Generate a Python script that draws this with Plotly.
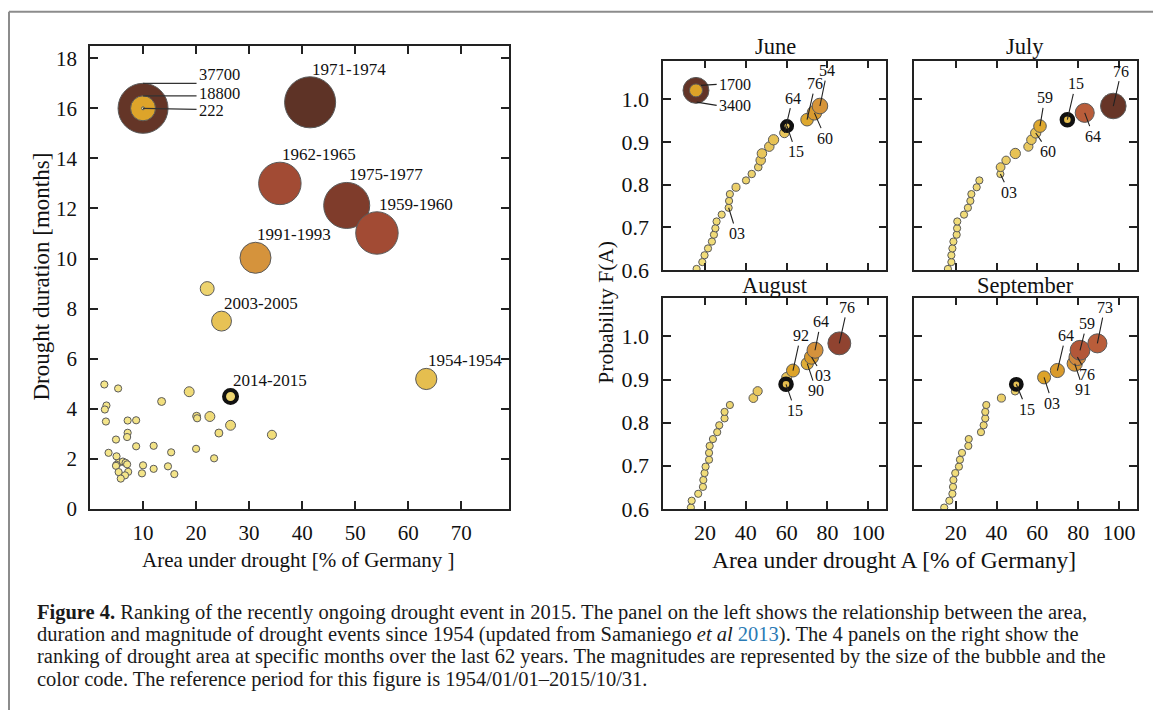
import plotly.graph_objects as go

W, H = 1153, 722
FONT = "Liberation Serif, Times New Roman, serif"

# ---------------- Left panel data: drought events ----------------
ev_area = [2.7, 5.3, 3.1, 2.8, 3.0, 7.1, 8.7, 7.1, 7.0, 4.9, 8.7, 12.0, 3.5, 15.3, 5.0,
           5.4, 6.2, 6.7, 7.0, 5.0, 4.9, 10.0, 7.2, 5.4, 6.6, 9.8, 12.0, 14.7, 15.9, 5.8,
           13.5, 18.7, 20.1, 20.2, 22.6, 24.3, 26.5, 20.0, 23.4, 34.3, 22.1,
           26.5, 24.8, 63.4, 31.2, 35.8, 48.4, 54.1, 41.5]
ev_dur = [4.97, 4.81, 4.13, 3.97, 3.49, 3.53, 3.54, 3.04, 2.87, 2.77, 2.50, 2.52, 2.24, 2.26, 2.10,
          1.84, 1.89, 1.84, 1.78, 1.76, 1.72, 1.74, 1.48, 1.47, 1.34, 1.42, 1.60, 1.70, 1.39, 1.21,
          4.29, 4.68, 3.70, 3.62, 3.69, 3.03, 3.34, 2.40, 2.02, 2.96, 8.80,
          4.49, 7.50, 5.19, 10.03, 13.0, 12.12, 11.02, 16.24]
ev_mag = [2900, 3000, 3000, 2900, 3000, 3100, 3800, 3100, 3100, 3000, 3600, 3800, 3100, 3800, 3000,
          3100, 3100, 3100, 3100, 3100, 3000, 3300, 3100, 3000, 3100, 3100, 3100, 3100, 3300, 3000,
          6000, 7500, 6000, 5300, 7500, 6000, 7500, 5300, 4200, 6800, 10500,
          9800, 15000, 16000, 23400, 32000, 34700, 32000, 38500]
ev_label = [""] * 41 + ["2014-2015", "2003-2005", "1954-1954", "1991-1993",
                        "1962-1965", "1975-1977", "1959-1960", "1971-1974"]
current_event = "2014-2015"
legend_mag = [37700, 18800, 222]
legend_area = 10
legend_dur = 16

# ---------------- Right panels: ranking of drought area per month ----------------
prob = [0.603, 0.619, 0.635, 0.651, 0.667, 0.683, 0.698, 0.714, 0.730, 0.746, 0.762, 0.778,
        0.794, 0.810, 0.825, 0.841, 0.857, 0.873, 0.889, 0.905, 0.921, 0.937, 0.952, 0.968, 0.984]

june_area = [15.9, 18.7, 19.8, 21.5, 23.4, 24.4, 25.1, 25.7, 28.2, 31.6, 31.8, 32.2, 35.2,
             40.1, 42.9, 46.1, 47.3, 47.9, 51.5, 53.6, 58.9, 60.2, 70.0, 73.6, 76.3]
june_mag = [500, 560, 620, 650, 660, 680, 700, 720, 760, 880, 850, 850, 1050,
            950, 980, 1000, 1250, 1250, 1250, 1350, 1250, 1250, 1650, 1900, 2050]
june_lab = [""] * 9 + ["03"] + [""] * 10 + ["64", "15", "76", "60", "54"]

july_area = [16.2, 17.9, 17.9, 18.4, 18.9, 20.5, 20.7, 20.8, 24.1, 26.0, 27.2, 27.7, 30.3,
             31.6, 41.9, 42.0, 44.7, 49.2, 55.6, 57.1, 59.2, 61.3, 74.7, 83.2, 97.2]
july_mag = [520, 560, 580, 600, 620, 650, 650, 660, 680, 720, 760, 760, 800,
            820, 800, 1150, 1100, 1350, 1200, 1250, 1350, 1650, 1450, 2500, 3350]
july_lab = [""] * 14 + ["03"] + [""] * 5 + ["60", "59", "15", "64", "76"]

aug_area = [13.1, 13.5, 16.7, 19.0, 19.2, 19.8, 20.3, 22.0, 22.0, 22.3, 23.9, 26.0, 27.0,
            29.6, 29.6, 32.2, 43.7, 45.8, 59.7, 60.0, 63.1, 70.1, 72.2, 73.9, 85.8]
aug_mag = [480, 520, 560, 600, 620, 640, 660, 680, 700, 720, 740, 760, 780,
           800, 820, 850, 1150, 1200, 1450, 1300, 1700, 1600, 1850, 2100, 3000]
aug_lab = [""] * 18 + ["15", "", "92", "90", "03", "64", "76"]

sep_area = [14.4, 16.9, 18.4, 18.7, 18.9, 19.8, 21.6, 22.1, 23.1, 26.2, 26.4, 32.4, 33.7,
            34.5, 34.5, 35.0, 42.4, 49.1, 49.7, 63.3, 69.8, 78.3, 79.6, 80.9, 89.4]
sep_mag = [480, 520, 560, 580, 600, 620, 640, 660, 680, 720, 740, 760, 780,
           800, 820, 850, 1050, 1000, 1350, 1700, 1850, 2000, 2200, 2600, 2500]
sep_lab = [""] * 18 + ["15", "03", "64", "91", "76", "59", "73"]

current_year = "15"
right_legend_mag = [3400, 1700]
right_legend_area = 15.6
right_legend_prob = 1.0205

# ---------------- styling / layout constants ----------------
CS = [[0.0, "#f6ea96"], [0.15, "#f2e07e"], [0.30, "#ecd06a"], [0.42, "#e5bd4e"],
      [0.50, "#dca024"], [0.62, "#d4913f"], [0.73, "#b85a3a"], [0.84, "#a04a34"],
      [0.91, "#7a3a2a"], [1.0, "#5e3326"]]
L_CMAX, L_SIZEREF = 38500, 754.0
R_CMAX, R_SIZEREF = 3450, 131.0
L_SIZEMIN, R_SIZEMIN = 3.6, 3.6


def xdom(a, b):
    return [a / W, b / W]


def ydom(top, bottom):
    return [1 - bottom / H, 1 - top / H]


fig = go.Figure()
annotations = []
shapes = []


def marker(mag, cmax, sizeref, sizemin, lw=1.0, lc="#5a5a5a"):
    return dict(size=mag, sizemode="diameter", sizeref=sizeref, sizemin=sizemin,
                color=mag, cmin=0, cmax=cmax, colorscale=CS,
                line=dict(color=lc, width=lw), opacity=1)


# ---- left panel ----
fig.add_trace(go.Scatter(x=ev_area, y=ev_dur, mode="markers", xaxis="x", yaxis="y",
                         marker=marker(ev_mag, L_CMAX, L_SIZEREF, L_SIZEMIN),
                         showlegend=False, hoverinfo="skip"))
hi = ev_label.index(current_event)
fig.add_trace(go.Scatter(x=[ev_area[hi]], y=[ev_dur[hi]], mode="markers", xaxis="x", yaxis="y",
                         marker=marker([ev_mag[hi]], L_CMAX, L_SIZEREF, L_SIZEMIN, lw=4, lc="#111"),
                         showlegend=False, hoverinfo="skip"))
fig.add_trace(go.Scatter(x=[legend_area] * 3, y=[legend_dur] * 3, mode="markers", xaxis="x", yaxis="y",
                         marker=marker(legend_mag, L_CMAX, L_SIZEREF, 1.5),
                         showlegend=False, hoverinfo="skip"))

for a, d, m, lab in zip(ev_area, ev_dur, ev_mag, ev_label):
    if not lab:
        continue
    diam = max(m / L_SIZEREF, L_SIZEMIN) + (4 if lab == current_event else 1)
    annotations.append(dict(x=a, y=d, xref="x", yref="y", text=lab, showarrow=False,
                            xanchor="left", yanchor="bottom", yshift=diam / 2 - 4.5,
                            font=dict(family=FONT, size=17, color="#111")))

# legend of left panel: leader lines (pixel offsets from the legend anchor) + texts
LEG_LINE_LEN = 53.5
for m, text_dy in zip(legend_mag, [33.5, 15, -2.5]):
    rad = m / L_SIZEREF / 2 if m > 1000 else 0
    end_dy = rad if m > 1000 else -1
    shapes.append(dict(type="line", xref="x", yref="y", xsizemode="pixel", ysizemode="pixel",
                       xanchor=legend_area, yanchor=legend_dur, x0=0, x1=LEG_LINE_LEN,
                       y0=rad, y1=end_dy, line=dict(color="#333", width=1.3)))
    annotations.append(dict(x=legend_area, y=legend_dur, xref="x", yref="y", text=str(m),
                            showarrow=False, xanchor="left", yanchor="middle",
                            xshift=LEG_LINE_LEN, yshift=text_dy,
                            font=dict(family=FONT, size=16.5, color="#111")))

# ---- right panels ----
panels = [
    ("June", june_area, june_mag, june_lab, "x2", "y2"),
    ("July", july_area, july_mag, july_lab, "x3", "y3"),
    ("August", aug_area, aug_mag, aug_lab, "x4", "y4"),
    ("September", sep_area, sep_mag, sep_lab, "x5", "y5"),
]
label_offsets = {
    ("June", "03"): (8, 25.7), ("June", "64"): (8.3, -34.7), ("June", "15"): (8.7, 25.7),
    ("June", "76"): (8.3, -36), ("June", "60"): (11, 25.3), ("June", "54"): (7.3, -35.3),
    ("July", "03"): (8.7, 18.3), ("July", "60"): (12.7, 18.7), ("July", "59"): (4.7, -28.3),
    ("July", "15"): (8.3, -35.7), ("July", "64"): (8.7, 23.3), ("July", "76"): (8, -35),
    ("August", "15"): (9, 26), ("August", "92"): (7.7, -35), ("August", "90"): (9, 27),
    ("August", "03"): (11.7, 18.8), ("August", "64"): (5.7, -28.3), ("August", "76"): (8, -36),
    ("September", "15"): (10.3, 25), ("September", "03"): (8.3, 25.7), ("September", "64"): (8.3, -35),
    ("September", "91"): (8.7, 26.3), ("September", "76"): (10, 17.3), ("September", "59"): (6.7, -26.7),
    ("September", "73"): (7.3, -35.7),
}

for name, area, mag, lab, xa, ya in panels:
    fig.add_trace(go.Scatter(x=area, y=prob, mode="markers", xaxis=xa, yaxis=ya,
                             marker=marker(mag, R_CMAX, R_SIZEREF, R_SIZEMIN),
                             showlegend=False, hoverinfo="skip"))
    k = lab.index(current_year)
    fig.add_trace(go.Scatter(x=[area[k]], y=[prob[k]], mode="markers", xaxis=xa, yaxis=ya,
                             marker=marker([mag[k]], R_CMAX, R_SIZEREF, R_SIZEMIN, lw=4.5, lc="#111"),
                             showlegend=False, hoverinfo="skip"))
    for a, p, t in zip(area, prob, lab):
        if not t:
            continue
        ax_, ay_ = label_offsets[(name, t)]
        annotations.append(dict(x=a, y=p, xref=xa, yref=ya, text=t, showarrow=True,
                                arrowhead=0, arrowwidth=1.1, arrowcolor="#222",
                                ax=ax_, ay=ay_, font=dict(family=FONT, size=16, color="#111")))

# legend bubbles in June panel
fig.add_trace(go.Scatter(x=[right_legend_area] * 2, y=[right_legend_prob] * 2, mode="markers",
                         xaxis="x2", yaxis="y2",
                         marker=marker(right_legend_mag, R_CMAX, R_SIZEREF, 2),
                         showlegend=False, hoverinfo="skip"))
for m, (xs, ys, ax_, ay_) in zip(right_legend_mag, [(0.7, -11.7, 20, 3.3), (5, 5, 15.7, -1)]):
    annotations.append(dict(x=right_legend_area, y=right_legend_prob, xref="x2", yref="y2",
                            text=str(m), showarrow=True, arrowhead=0, arrowwidth=1.1,
                            arrowcolor="#222", ax=ax_, ay=ay_, xshift=xs, yshift=ys,
                            xanchor="left", yanchor="middle",
                            font=dict(family=FONT, size=16, color="#111")))

# ---------------- axes ----------------
def axis(dom, rng, tickvals, size, showlabels=True, fmt=None, standoff=6, anchor=None):
    d = dict(domain=dom, range=rng, tickvals=tickvals, showline=True, linecolor="#222",
             linewidth=1.6, mirror="ticks", ticks="inside", ticklen=8, tickwidth=1.5,
             tickcolor="#222", showgrid=False, zeroline=False, showticklabels=showlabels,
             tickfont=dict(family=FONT, size=size, color="#111"), ticklabelstandoff=standoff,
             anchor=anchor)
    if fmt:
        d["tickformat"] = fmt
    return d


LX = xdom(90, 509)
LY = ydom(47, 517.5)
RX1 = xdom(663.3, 886.3)
RX2 = xdom(914, 1137)
RY1 = ydom(61.7, 275)
RY2 = ydom(302.7, 517.7)
rx_rng = [-0.4, 108.8]
ry_rng = [0.5995, 1.09]
rx_ticks = [20, 40, 60, 80, 100]
ry_ticks = [0.6, 0.7, 0.8, 0.9, 1.0]

fig.update_layout(
    xaxis=axis(LX, [0, 79], [10, 20, 30, 40, 50, 60, 70], 21, anchor="y", standoff=4),
    yaxis=axis(LY, [0, 18.48], list(range(0, 19, 2)), 21, anchor="x", standoff=7),
    xaxis2=axis(RX1, rx_rng, rx_ticks, 22, showlabels=False, anchor="y2"),
    yaxis2=axis(RY1, ry_rng, ry_ticks, 22, fmt=".1f", anchor="x2", standoff=8),
    xaxis3=axis(RX2, rx_rng, rx_ticks, 22, showlabels=False, anchor="y3"),
    yaxis3=axis(RY1, ry_rng, ry_ticks, 22, showlabels=False, anchor="x3"),
    xaxis4=axis(RX1, rx_rng, rx_ticks, 22, anchor="y4", standoff=3),
    yaxis4=axis(RY2, ry_rng, ry_ticks, 22, fmt=".1f", anchor="x4", standoff=8),
    xaxis5=axis(RX2, rx_rng, rx_ticks, 22, anchor="y5", standoff=3),
    yaxis5=axis(RY2, ry_rng, ry_ticks, 22, showlabels=False, anchor="x5"),
)

# ---------------- titles / texts ----------------
def ptext(x, y, text, size, angle=0, xanchor="center", yanchor="middle", color="#111"):
    return dict(x=x / W, y=1 - y / H, xref="paper", yref="paper", text=text, showarrow=False,
                textangle=angle, xanchor=xanchor, yanchor=yanchor,
                font=dict(family=FONT, size=size, color=color))


annotations += [
    ptext(41.7, 281.5, "Drought duration [months]", 23, angle=-90),
    ptext(299, 569, "Area under drought [% of Germany ]", 21),
    ptext(606.5, 317.5, "Probability F(A)", 21.5, angle=-90),
    ptext(894, 569, "Area under drought A [% of Germany]", 23.5),
    ptext(775, 47.5, "June", 22.5),
    ptext(1025, 47.5, "July", 22.5),
    ptext(775.5, 290, "August", 22.5),
    ptext(1025, 290, "September", 22.5),
]

caption = [
    "<b>Figure 4.</b> Ranking of the recently ongoing drought event in 2015. The panel on the left shows the relationship between the area,",
    "duration and magnitude of drought events since 1954 (updated from Samaniego <i>et al</i> <span style='color:#2b7bb5'>2013</span>). The 4 panels on the right show the",
    "ranking of drought area at specific months over the last 62 years. The magnitudes are represented by the size of the bubble and the",
    "color code. The reference period for this figure is 1954/01/01\u20132015/10/31.",
]
for i, line in enumerate(caption):
    annotations.append(ptext(35, 623 + 22.5 * i, line, 20.5, xanchor="left", color="#1a1a1a"))

# page frame
shapes += [
    dict(type="line", xref="paper", yref="paper", x0=9 / W, x1=1, y0=1 - 12 / H, y1=1 - 12 / H,
         line=dict(color="#8c8c8c", width=2)),
    dict(type="line", xref="paper", yref="paper", x0=9 / W, x1=9 / W, y0=0, y1=1 - 12 / H,
         line=dict(color="#8c8c8c", width=2)),
]

fig.update_layout(width=W, height=H, margin=dict(l=0, r=0, t=0, b=0),
                  paper_bgcolor="white", plot_bgcolor="white",
                  annotations=annotations, shapes=shapes, showlegend=False,
                  font=dict(family=FONT, color="#111"))

fig.write_html("out.html", config={"displayModeBar": False},
               post_script="document.body.style.margin='0px';document.body.style.overflow='hidden';")
